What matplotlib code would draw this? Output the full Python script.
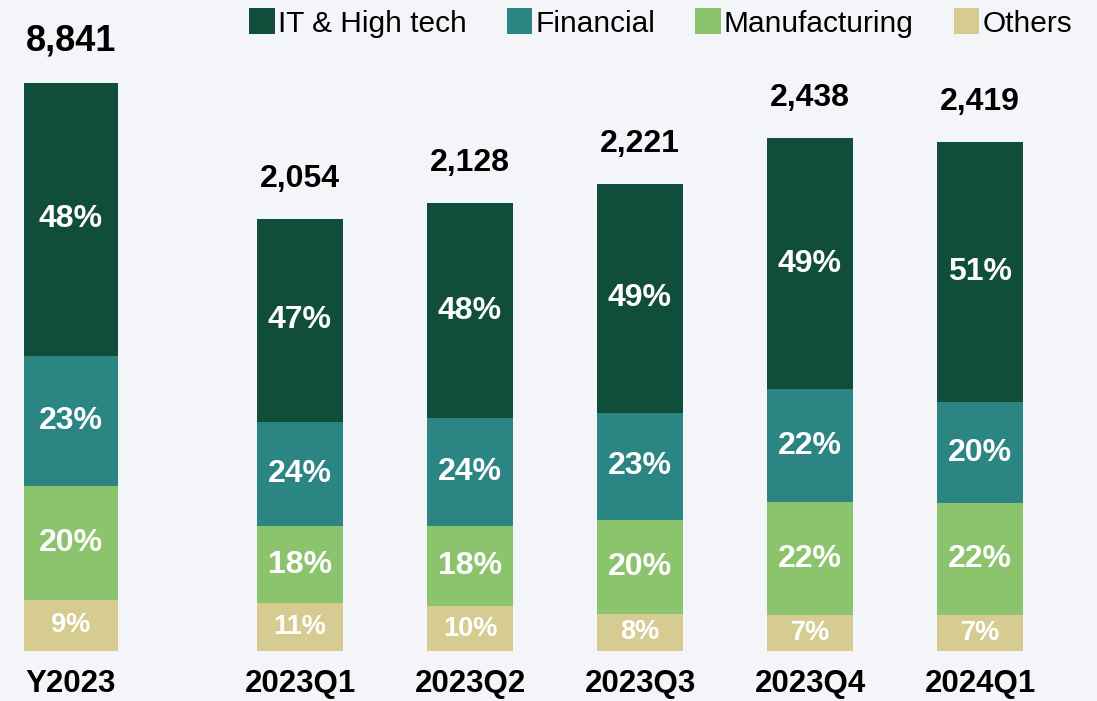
import matplotlib.pyplot as plt
from matplotlib.patches import Patch

plt.rcParams['font.family'] = ['Liberation Sans', 'DejaVu Sans']

# data
categories = ['2023Q1', '2023Q2', '2023Q3', '2023Q4', '2024Q1']
totals = [2054, 2128, 2221, 2438, 2419]
segments = ['IT & High tech', 'Financial', 'Manufacturing', 'Others']
shares = {
    'IT & High tech': [47, 48, 49, 49, 51],
    'Financial': [24, 24, 23, 22, 20],
    'Manufacturing': [18, 18, 20, 22, 22],
    'Others': [11, 10, 8, 7, 7],
}
year_label = 'Y2023'
year_total = 8841
year_shares = {'IT & High tech': 48, 'Financial': 23, 'Manufacturing': 20, 'Others': 9}

colors = {
    'IT & High tech': '#114D3B',
    'Financial': '#2A8583',
    'Manufacturing': '#8CC46E',
    'Others': '#D6CB91',
}
# stack from the bottom up
stack_order = ['Others', 'Manufacturing', 'Financial', 'IT & High tech']

W, H = 1097, 701
fig = plt.figure(figsize=(W / 100, H / 100), dpi=100)
fig.patch.set_facecolor('#F4F5F8')

bottom_px = 651
ax_year = fig.add_axes([24 / W, (H - bottom_px) / H, 94 / W, bottom_px / H])
ax = fig.add_axes([215 / W, (H - bottom_px) / H, 850 / W, bottom_px / H])


def draw_stack(a, xs, tots, share_lists, width, small_size):
    base = [0] * len(xs)
    for seg in stack_order:
        vals = [t * s / 100 for t, s in zip(tots, share_lists[seg])]
        a.bar(xs, vals, width=width, bottom=base, color=colors[seg], linewidth=0)
        for x, b, v, s in zip(xs, base, vals, share_lists[seg]):
            size = small_size if seg == 'Others' else 23
            a.text(x, b + v / 2, f'{s}%', ha='center', va='center',
                   color='white', fontsize=size, fontweight='bold')
        base = [b + v for b, v in zip(base, vals)]
    return base


# annual bar, own scale
tops = draw_stack(ax_year, [0], [year_total], {k: [v] for k, v in year_shares.items()}, 1.0, 19.5)
ax_year.set_xlim(-0.5, 0.5)
ax_year.set_ylim(0, year_total * 651 / 568)
ax_year.annotate(f'{year_total:,}', (0, tops[0]), xytext=(0, 18), textcoords='offset points',
                 ha='center', va='bottom', fontsize=26, fontweight='bold')
ax_year.text(0, -33 / 651, year_label, transform=ax_year.get_xaxis_transform(),
             ha='center', va='center', fontsize=22.5, fontweight='bold', clip_on=False)

# quarterly bars
xs = list(range(len(categories)))
tops = draw_stack(ax, xs, totals, shares, 86 / 170, 19.5)
ax.set_xlim(-0.5, len(categories) - 0.5)
ax.set_ylim(0, 651 / 0.2104)
for x, t in zip(xs, tops):
    ax.annotate(f'{int(round(t)):,}', (x, t), xytext=(0, 18), textcoords='offset points',
                ha='center', va='bottom', fontsize=23, fontweight='bold')
for x, c in zip(xs, categories):
    ax.text(x, -33 / 651, c, transform=ax.get_xaxis_transform(),
            ha='center', va='center', fontsize=22.5, fontweight='bold', clip_on=False)

for a in (ax, ax_year):
    a.axis('off')

handles = [Patch(facecolor=colors[s], edgecolor='none', label=s) for s in segments]
fig.legend(handles=handles, loc='center right', bbox_to_anchor=(1072 / W, (H - 23) / H),
           ncol=4, frameon=False, fontsize=21.5, handlelength=0.85, handleheight=0.95,
           handletextpad=0.1, columnspacing=1.35, borderpad=0, borderaxespad=0)

fig.savefig('out.png', dpi=100, facecolor=fig.get_facecolor())
